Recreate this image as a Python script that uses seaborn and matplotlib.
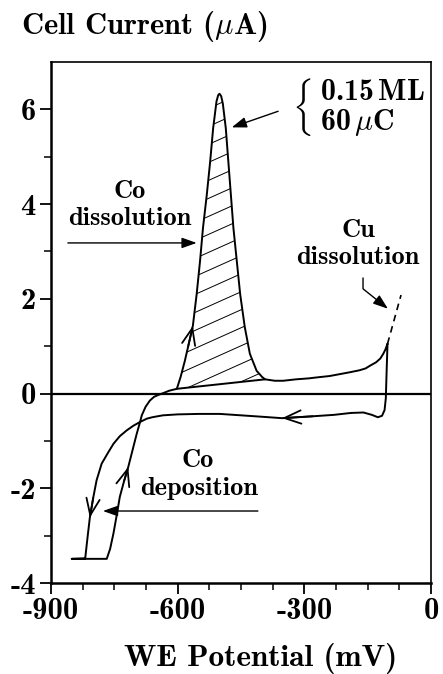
import numpy as np
import pandas as pd
import matplotlib
matplotlib.use("Agg")
import matplotlib.pyplot as plt
import seaborn as sns

# ---------------- data (WE potential in mV, cell current in uA) ----------------
# cathodic sweep: from the anodic turning point down and to the left
cath_x = [-103, -105, -107, -110, -116, -126, -140, -160, -190, -230, -280, -353,
          -400, -450, -500, -550, -600, -635, -660, -673, -689, -705, -721, -737,
          -752, -765, -780, -792, -800, -808, -813, -819]
cath_y = [1.05, 0.50, -0.10, -0.35, -0.47, -0.50, -0.45, -0.40, -0.41, -0.45, -0.48, -0.52,
          -0.49, -0.46, -0.43, -0.43, -0.44, -0.46, -0.50, -0.53, -0.60, -0.68, -0.78, -0.90,
          -1.06, -1.25, -1.48, -1.83, -2.20, -2.62, -3.00, -3.48]
# current clamped at the low limit (turning point of the sweep)
clamp_x = [-851, -768]
clamp_y = [-3.49, -3.49]
# anodic sweep rising out of the clamp
rise_x = [-760, -752, -744, -737, -727, -717, -707, -697, -689, -685, -676, -666,
          -656, -646, -634, -620]
rise_y = [-3.28, -2.95, -2.55, -2.18, -1.85, -1.55, -1.20, -0.85, -0.60, -0.46, -0.28, -0.15,
          -0.07, -0.03, 0.01, 0.06]
# Co dissolution peak
peak_x = [-602, -593, -583, -575, -564, -555, -547, -540, -531, -523, -516, -508,
          -504, -501, -497, -493, -486, -480, -474, -468, -460, -452, -441, -429,
          -413, -400, -393]
peak_y = [0.10, 0.35, 0.69, 1.00, 1.43, 2.10, 2.80, 3.50, 4.20, 4.90, 5.60, 6.17,
          6.30, 6.33, 6.28, 6.12, 5.60, 4.90, 4.20, 3.50, 2.80, 2.10, 1.40, 0.84,
          0.48, 0.35, 0.30]
# anodic plateau up to the turning point
tail_x = [-370, -350, -320, -290, -271, -240, -210, -192, -170, -155, -144, -130,
          -120, -113, -108, -103]
tail_y = [0.27, 0.27, 0.30, 0.32, 0.34, 0.37, 0.42, 0.45, 0.49, 0.53, 0.59, 0.66,
          0.74, 0.84, 0.93, 1.05]
# Cu dissolution onset (dashed)
cu_x = [-103, -71]
cu_y = [1.05, 2.08]

x_major = [-900, -600, -300, 0]
x_labels = ["-900", "-600", "-300", "0"]
y_major = [-4, -2, 0, 2, 4, 6]
y_labels = ["-4", "-2", "0", "2", "4", "6"]

# ---------------- style ----------------
sns.set_style("ticks")
plt.rcParams.update({
    "font.family": ["cmb10", "DejaVu Serif"],
    "mathtext.fontset": "custom",
    "mathtext.rm": "cmb10",
    "mathtext.bf": "cmb10",
    "mathtext.it": "cmmi10",
    "mathtext.fallback": "cm",
    "axes.unicode_minus": False,
    "text.color": "black",
    "axes.edgecolor": "black",
    "xtick.color": "black",
    "ytick.color": "black",
})

fig = plt.figure(figsize=(4.43, 6.74), dpi=100)
ax = fig.add_axes([51 / 443, 91 / 674, 380 / 443, 521 / 674])

path_x = cath_x + clamp_x + rise_x + peak_x + tail_x
path_y = cath_y + clamp_y + rise_y + peak_y + tail_y
df = pd.DataFrame({"potential": path_x, "current": path_y})

ax.axhline(0, color="k", lw=1.6, zorder=1)
sns.lineplot(data=df, x="potential", y="current", sort=False, estimator=None,
             color="k", lw=1.4, ax=ax, zorder=3)
sns.lineplot(x=cu_x, y=cu_y, sort=False, estimator=None, color="k", lw=1.2,
             linestyle=(0, (4, 3)), ax=ax)

# integration baseline + hatched charge
ax.plot([peak_x[0], peak_x[-1]], [peak_y[0], peak_y[-1]], color="k", lw=1.4, zorder=3)
poly = ax.fill(peak_x, peak_y, facecolor="none", edgecolor="none")[0]
slope = 0.0040
hx = np.array([min(peak_x) - 30.0, max(peak_x) + 30.0])
for c in np.arange(-2.0, 7.0, 0.38):
    ln, = ax.plot(hx, c + slope * (hx - hx[0]), color="k", lw=0.7, zorder=2)
    ln.set_clip_path(poly)

# sweep-direction arrowheads placed on curve points
def curve_arrow(i):
    ax.annotate("", xy=(path_x[i], path_y[i]), xytext=(path_x[i - 1], path_y[i - 1]),
                arrowprops=dict(arrowstyle="->,head_length=0.6,head_width=0.24",
                                color="k", lw=1.3, shrinkA=0, shrinkB=0,
                                mutation_scale=20), zorder=4)

n_c, n_cl, n_r = len(cath_x), len(clamp_x), len(rise_x)
curve_arrow(11)                      # leftward on cathodic plateau
curve_arrow(29)                      # downward on cathodic branch
curve_arrow(n_c + n_cl + 5)          # upward on anodic rise
curve_arrow(n_c + n_cl + n_r + 4)    # upward on dissolution peak

filled = dict(arrowstyle="-|>,head_length=0.45,head_width=0.16", color="k", lw=1.0,
              shrinkA=0, shrinkB=0, mutation_scale=20)
ann = dict(ha="center", va="center", fontsize=19)

# annotations
ax.text(-713, 4.27, "Co", **ann)
ax.text(-713, 3.70, "dissolution", **ann)
ax.annotate("", xy=(-555, 3.18), xytext=(-860, 3.18), arrowprops=filled)

ax.text(-173, 3.45, "Cu", **ann)
ax.text(-173, 2.88, "dissolution", **ann)
ax.annotate("", xy=(-102, 1.79), xytext=(-161, 2.44),
            arrowprops=dict(filled, connectionstyle="angle,angleA=-90,angleB=-38.7,rad=0"))

ax.text(-552, -1.41, "Co", **ann)
ax.text(-549, -2.00, "deposition", **ann)
ax.annotate("", xy=(-777, -2.48), xytext=(-410, -2.48), arrowprops=filled)

ax.annotate("", xy=(-472, 5.62), xytext=(-362, 5.96), arrowprops=filled)
ax.text(-330, 6.06,
        r"$\left\{\;\genfrac{}{}{0}{0}{\mathbf{0.15\,ML}}{\mathbf{60}\,\mu\mathbf{C}\quad\,}\right.$",
        ha="left", va="center", fontsize=21.5)

# axes
ax.set_xlim(-900, 0)
ax.set_ylim(-4, 7)
ax.set_xticks(x_major)
ax.set_xticklabels(x_labels)
ax.set_xticks(np.arange(-900, 1, 75), minor=True)
ax.set_yticks(y_major)
ax.set_yticklabels(y_labels)
ax.set_yticks(np.arange(-3, 7, 2), minor=True)
ax.tick_params(which="major", direction="out", length=8, width=1.3, labelsize=22, pad=3)
ax.tick_params(which="minor", direction="out", length=5, width=1.1)
ax.set_xlabel("")
ax.set_ylabel("")
for s in ["left", "bottom"]:
    ax.spines[s].set_linewidth(1.8)
for s in ["top", "right"]:
    ax.spines[s].set_linewidth(1.2)
    ax.spines[s].set_visible(True)

fig.text(21 / 443, 1 - 27 / 674, r"Cell Current ($\mu$A)", ha="left", va="center",
         fontsize=22)
fig.text(261 / 443, 1 - 658 / 674, "WE Potential (mV)", ha="center", va="center",
         fontsize=22.5)

fig.savefig("out.png", dpi=100)
